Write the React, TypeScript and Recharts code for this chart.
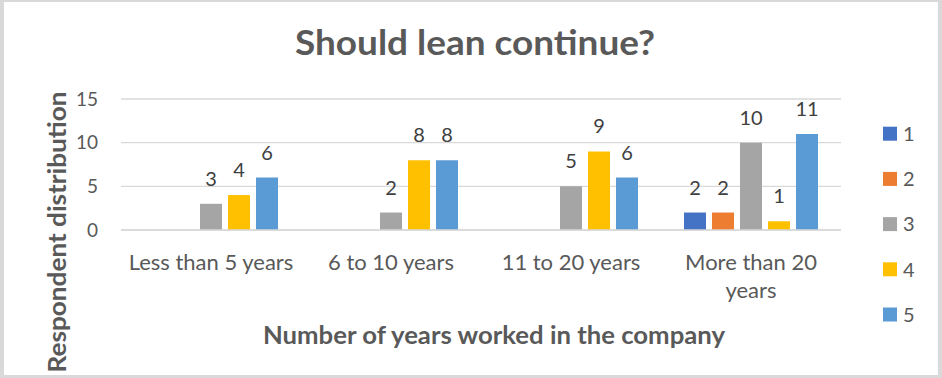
import React from 'react';
import { BarChart, Bar, XAxis, YAxis, CartesianGrid, Legend, LabelList, Label } from 'recharts';

const categories = ['Less than 5 years', '6 to 10 years', '11 to 20 years', 'More than 20 years'];
const seriesNames = ['1', '2', '3', '4', '5'];
const s1: (number | null)[] = [null, null, null, 2];
const s2: (number | null)[] = [null, null, null, 2];
const s3: (number | null)[] = [3, 2, 5, 10];
const s4: (number | null)[] = [4, 8, 9, 1];
const s5: (number | null)[] = [6, 8, 6, 11];
const yTicks = [0, 5, 10, 15];
const title = 'Should lean continue?';
const yTitle = 'Respondent distribution';
const xTitle = 'Number of years worked in the company';

const seriesValues = [s1, s2, s3, s4, s5];
const data = categories.map((c, i) => {
  const row: Record<string, any> = { category: c };
  seriesNames.forEach((n, k) => {
    row['s' + n] = seriesValues[k][i];
  });
  return row;
});

const COLORS = ['#4472C4', '#ED7D31', '#A5A5A5', '#FFC000', '#5B9BD5'];
const FONT = 'Lato, "Open Sans", sans-serif';
const TEXT = '#595959';
const LABEL = '#404040';
const GRID = '#D9D9D9';

const W = 942;
const H = 378;
const TICK_FONT = 22;
const TICK_WRAP = 172;
const TICK_LINE = 28;

let ctx: CanvasRenderingContext2D | null = null;
const measure = (s: string) => {
  if (!ctx) {
    const c = document.createElement('canvas');
    ctx = c.getContext('2d');
  }
  if (!ctx) return s.length * TICK_FONT * 0.5;
  ctx.font = `${TICK_FONT}px Lato`;
  return ctx.measureText(s).width;
};

const wrap = (s: string) => {
  const words = s.split(' ');
  const lines: string[] = [];
  let cur = '';
  words.forEach((w) => {
    const next = cur ? cur + ' ' + w : w;
    if (cur && measure(next) > TICK_WRAP) {
      lines.push(cur);
      cur = w;
    } else {
      cur = next;
    }
  });
  if (cur) lines.push(cur);
  return lines;
};

const ValueLabel = (props: any) => {
  const { x, y, width, value } = props;
  if (value === null || value === undefined) return null;
  return (
    <text x={x + width / 2} y={y - 18} textAnchor="middle" fill={LABEL} fontFamily={FONT} fontSize={20}>
      {value}
    </text>
  );
};

const XTick = (props: any) => {
  const { x, y, payload } = props;
  const lines = wrap(String(payload.value));
  return (
    <text x={x} y={y + 16.5} textAnchor="middle" fill={TEXT} fontFamily={FONT} fontSize={TICK_FONT}>
      {lines.map((l, i) => (
        <tspan key={i} x={x} dy={i === 0 ? 0 : TICK_LINE}>
          {l}
        </tspan>
      ))}
    </text>
  );
};

const YTitle = () => (
  <text
    x={56}
    y={232}
    transform="rotate(-90 56 232)"
    textAnchor="middle"
    dominantBaseline="central"
    fill={TEXT}
    fontFamily={FONT}
    fontWeight="bold"
    fontSize={24}
    textLength={281}
    lengthAdjust="spacingAndGlyphs"
  >
    {yTitle}
  </text>
);

const XTitle = () => (
  <text
    x={494}
    y={344}
    textAnchor="middle"
    fill={TEXT}
    fontFamily={FONT}
    fontWeight="bold"
    fontSize={24}
    textLength={462}
    lengthAdjust="spacingAndGlyphs"
  >
    {xTitle}
  </text>
);

const LegendContent = (props: any) => {
  const { payload } = props;
  return (
    <svg width={60} height={210} style={{ display: 'block' }}>
      {(payload || []).map((p: any, i: number) => (
        <g key={p.value}>
          <rect x={3} y={6.7 + i * 45.2} width={14} height={14} fill={p.color} />
          <text x={23} y={21 + i * 45.2} fill={TEXT} fontFamily={FONT} fontSize={20}>
            {p.value}
          </text>
        </g>
      ))}
    </svg>
  );
};

const border = (s: React.CSSProperties): React.CSSProperties => ({ position: 'absolute', background: GRID, ...s });

export default function App() {
  return (
    <div style={{ position: 'fixed', left: 0, top: 0, width: W, height: H, background: '#fff', overflow: 'hidden' }}>
      <BarChart
        width={W}
        height={H}
        data={data}
        margin={{ top: 99, right: 101, bottom: 88, left: 61 }}
        barSize={22}
        barGap={6}
      >
        <text x={475} y={55} textAnchor="middle" fill={TEXT} fontFamily={FONT} fontWeight="bold" fontSize={34} textLength={360} lengthAdjust="spacingAndGlyphs">
          {title}
        </text>
        <CartesianGrid vertical={false} stroke={GRID} strokeWidth={1.3} />
        <XAxis
          dataKey="category"
          height={60}
          axisLine={{ stroke: GRID, strokeWidth: 1.3 }}
          tickLine={false}
          tickSize={0}
          tickMargin={23}
          tick={<XTick />}
          interval={0}
        >
          <Label content={<XTitle />} />
        </XAxis>
        <YAxis
          width={60}
          domain={[0, 15]}
          ticks={yTicks}
          axisLine={false}
          tickLine={false}
          tickSize={0}
          tickMargin={23}
          tick={{ fill: TEXT, fontFamily: FONT, fontSize: 19 }}
        >
          <Label content={<YTitle />} />
        </YAxis>
        <Legend
          layout="vertical"
          align="center"
          verticalAlign="middle"
          content={<LegendContent />}
          wrapperStyle={{ left: 880, top: 120, width: 60, height: 210 }}
        />
        {seriesNames.map((n, k) => (
          <Bar key={n} dataKey={'s' + n} name={n} fill={COLORS[k]} isAnimationActive={false}>
            <LabelList dataKey={'s' + n} content={<ValueLabel />} />
          </Bar>
        ))}
      </BarChart>
      <div style={border({ left: 0, top: 0, width: 4, height: H })} />
      <div style={border({ left: 0, top: 0, width: W, height: 2 })} />
      <div style={border({ right: 0, top: 0, width: 4, height: H })} />
      <div style={border({ left: 0, bottom: 0, width: W, height: 3 })} />
    </div>
  );
}
